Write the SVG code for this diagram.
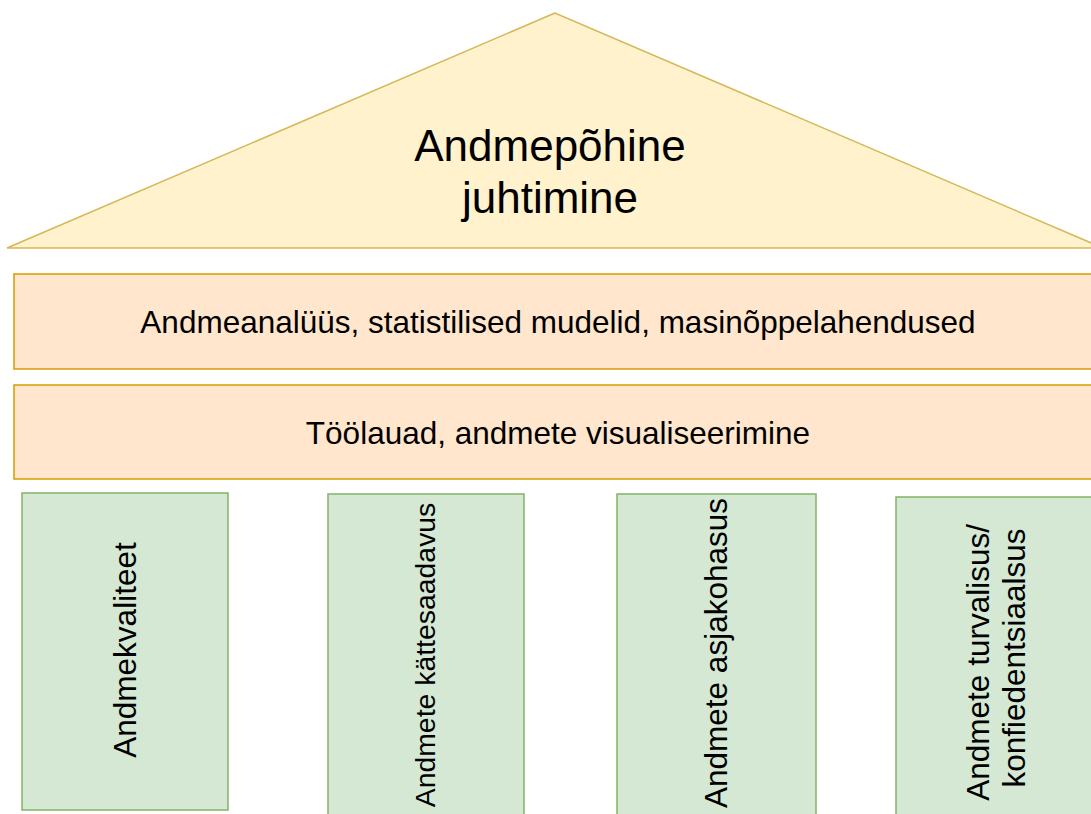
<svg xmlns="http://www.w3.org/2000/svg" width="1091" height="814" viewBox="0 0 1091 814">
  <style>
    .roof { fill: #fff2cc; stroke: #d6b656; stroke-width: 1.5; }
    .beam { fill: #ffe6cc; stroke: #d79b00; stroke-width: 1.5; }
    .pillar { fill: #d5e8d4; stroke: #82b366; stroke-width: 1.5; }
    text { font-family: "Liberation Sans", Arial, sans-serif; fill: #000; text-anchor: middle; }
    .title { font-size: 44px; }
    .label { font-size: 31.5px; }
    .small { font-size: 28.4px; }
  </style>
  <rect width="1091" height="814" fill="#ffffff"/>

  <!-- roof -->
  <g id="roof">
    <polygon class="roof" points="555,13 7,248 1103,248"/>
    <text class="title" x="550" y="161">Andmepõhine</text>
    <text class="title" x="550" y="213">juhtimine</text>
  </g>

  <!-- horizontal layers -->
  <g id="analytics">
    <rect class="beam" x="14" y="274" width="1089" height="95"/>
    <text class="label" x="558" y="333">Andmeanalüüs, statistilised mudelid, masinõppelahendused</text>
  </g>
  <g id="dashboards">
    <rect class="beam" x="14" y="385" width="1089" height="94"/>
    <text class="label" x="558" y="444">Töölauad, andmete visualiseerimine</text>
  </g>

  <!-- pillars -->
  <g id="quality">
    <rect class="pillar" x="22" y="493" width="206" height="317"/>
    <text class="label" transform="translate(125,650) rotate(-90)" dy="0.35em">Andmekvaliteet</text>
  </g>
  <g id="availability">
    <rect class="pillar" x="328" y="494" width="196" height="322"/>
    <text class="small" transform="translate(425,655) rotate(-90)" dy="0.35em">Andmete kättesaadavus</text>
  </g>
  <g id="relevance">
    <rect class="pillar" x="617" y="494" width="199" height="322"/>
    <text class="label" transform="translate(716,653) rotate(-90)" dy="0.35em">Andmete asjakohasus</text>
  </g>
  <g id="security">
    <rect class="pillar" x="896" y="497" width="200" height="320"/>
    <text class="label" transform="translate(996,658) rotate(-90)">
      <tspan x="0" y="-18" dy="0.35em">Andmete turvalisus/</tspan>
      <tspan x="0" y="18" dy="0.35em">konfiedentsiaalsus</tspan>
    </text>
  </g>

  <!-- no connectors in this diagram -->
  <g id="connectors"/>
</svg>
